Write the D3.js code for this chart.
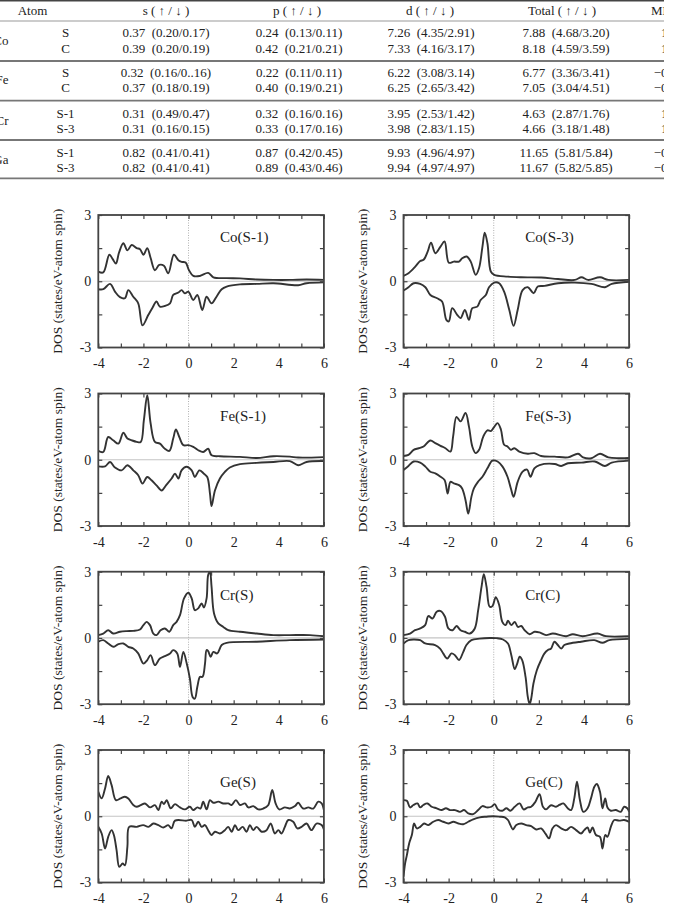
<!DOCTYPE html>
<html>
<head>
<meta charset="utf-8">
<script src="https://cdn.jsdelivr.net/npm/d3@7"></script>
<style>
  body { margin: 0; background: #fff; }
  svg { display: block; font-family: "Liberation Serif", "Times New Roman", serif; }
  .tbl text { fill: #222; font-size: 13px; white-space: pre; }
  .axis text { font-family: "Liberation Serif", serif; font-size: 14px; fill: #222; }
  .axis line { stroke: #444; stroke-width: 1.2; }
</style>
</head>
<body>
<svg id="fig" width="673" height="903"></svg>
<script>
// ---- table data ----
const tableAtoms = ["Co", "Fe", "Cr", "Ga"];
const tableSites = ["S", "C", "S", "C", "S-1", "S-3", "S-1", "S-3"];
const sCol = ["0.37  (0.20/0.17)", "0.39  (0.20/0.19)", "0.32  (0.16/0..16)", "0.37  (0.18/0.19)",
              "0.31  (0.49/0.47)", "0.31  (0.16/0.15)", "0.82  (0.41/0.41)", "0.82  (0.41/0.41)"];
const pCol = ["0.24  (0.13/0.11)", "0.42  (0.21/0.21)", "0.22  (0.11/0.11)", "0.40  (0.19/0.21)",
              "0.32  (0.16/0.16)", "0.33  (0.17/0.16)", "0.87  (0.42/0.45)", "0.89  (0.43/0.46)"];
const dCol = ["7.26  (4.35/2.91)", "7.33  (4.16/3.17)", "6.22  (3.08/3.14)", "6.25  (2.65/3.42)",
              "3.95  (2.53/1.42)", "3.98  (2.83/1.15)", "9.93  (4.96/4.97)", "9.94  (4.97/4.97)"];
const totalCol = ["7.88  (4.68/3.20)", "8.18  (4.59/3.59)", "6.77  (3.36/3.41)", "7.05  (3.04/4.51)",
                  "4.63  (2.87/1.76)", "4.66  (3.18/1.48)", "11.65  (5.81/5.84)", "11.67  (5.82/5.85)"];
// only the first characters are visible in the cropped figure
const mmCol = ["1", "1", "\u22120", "\u22120", "1", "1", "\u22120", "\u22120"];
const tableHeaders = ["Atom", "s ( \u2191 / \u2193 )", "p ( \u2191 / \u2193 )", "d ( \u2191 / \u2193 )", "Total ( \u2191 / \u2193 )", "MM"];

// ---- DOS curves: [energy (eV), DOS] ----
const coS1Up = [[-4,0.44],[-3.78,0.4],[-3.51,1.2],[-3.36,1.0],[-3.22,0.8],[-3.08,1.3],[-2.89,1.72],[-2.71,1.4],[-2.52,1.64],[-2.3,1.5],[-2.15,1.45],[-2.0,1.2],[-1.83,1.5],[-1.68,1.05],[-1.49,0.5],[-1.3,0.74],[-1.09,0.7],[-0.9,0.36],[-0.65,1.2],[-0.45,0.95],[-0.31,0.88],[-0.13,0.85],[0.02,0.5],[0.21,0.24],[0.5,0.24],[0.87,0.38],[1.1,0.18],[1.69,0.14],[2.28,0.13],[3.02,0.08],[3.76,0.06],[4.49,0.06],[5.23,0.08],[6.0,0.06]];
const coS1Dn = [[-4,-0.36],[-3.78,-0.36],[-3.48,-0.12],[-3.26,-0.47],[-3.04,-0.72],[-2.82,-0.77],[-2.67,-0.4],[-2.45,-0.7],[-2.23,-1.0],[-2.04,-2.0],[-1.78,-1.52],[-1.61,-1.22],[-1.42,-0.92],[-1.27,-1.15],[-1.05,-1.12],[-0.82,-1.0],[-0.68,-0.62],[-0.45,-0.51],[-0.31,-0.4],[-0.16,-0.55],[-0.01,-0.47],[0.21,-0.85],[0.39,-0.62],[0.61,-1.3],[0.8,-0.7],[1.02,-1.0],[1.24,-0.7],[1.47,-0.36],[1.69,-0.24],[2.28,-0.14],[3.02,-0.12],[3.76,-0.09],[4.86,-0.18],[5.23,-0.09],[6.0,-0.05]];
const coS3Up = [[-4,0.24],[-3.78,0.36],[-3.48,0.66],[-3.26,0.92],[-3.11,0.97],[-2.93,1.34],[-2.78,1.75],[-2.59,1.27],[-2.36,1.57],[-2.18,1.8],[-1.99,0.84],[-1.77,0.89],[-1.54,0.89],[-1.4,1.04],[-1.2,1.12],[-1.02,0.89],[-0.8,0.29],[-0.65,0.6],[-0.5,1.57],[-0.4,2.2],[-0.28,1.72],[-0.13,0.44],[0.02,0.29],[0.61,0.21],[1.21,0.18],[2.1,0.17],[2.85,0.1],[3.59,0.06],[3.89,0.18],[4.18,0.06],[4.71,0.18],[5.08,0.06],[6.0,0.06]];
const coS3Dn = [[-4,-0.42],[-3.78,-0.27],[-3.55,-0.09],[-3.26,-0.12],[-3.03,-0.27],[-2.81,-0.62],[-2.51,-0.77],[-2.29,-0.92],[-2.1,-1.75],[-1.99,-1.82],[-1.84,-1.22],[-1.62,-1.52],[-1.47,-1.67],[-1.28,-1.3],[-1.1,-1.75],[-0.95,-1.22],[-0.73,-1.15],[-0.58,-0.85],[-0.35,-0.62],[-0.21,-0.27],[0.02,-0.06],[0.24,-0.09],[0.46,-0.47],[0.69,-1.3],[0.88,-2.02],[1.06,-1.3],[1.28,-0.4],[1.51,-0.27],[1.77,-0.54],[1.95,-0.24],[2.25,-0.21],[2.85,-0.09],[3.59,-0.06],[4.33,-0.12],[4.93,-0.27],[5.23,-0.12],[6.0,-0.02]];
const feS1Up = [[-4,0.4],[-3.78,0.35],[-3.56,1.03],[-3.34,0.88],[-3.11,0.73],[-2.89,1.22],[-2.71,0.96],[-2.52,0.88],[-2.3,0.81],[-2.12,0.8],[-1.98,1.79],[-1.83,2.92],[-1.68,1.64],[-1.49,0.81],[-1.27,0.73],[-1.05,0.5],[-0.85,0.4],[-0.68,0.96],[-0.56,1.37],[-0.41,1.03],[-0.23,0.66],[-0.01,0.66],[0.21,0.58],[0.43,0.43],[0.65,0.35],[0.87,0.5],[1.02,0.2],[1.39,0.16],[2.28,0.13],[3.02,0.08],[3.76,0.16],[4.49,0.14],[4.86,0.1],[6.0,0.12]];
const feS1Dn = [[-4,-0.3],[-3.7,-0.3],[-3.48,-0.1],[-3.26,-0.35],[-2.97,-0.48],[-2.71,-0.25],[-2.45,-0.48],[-2.23,-0.7],[-2.04,-1.08],[-1.83,-0.78],[-1.64,-0.93],[-1.42,-1.16],[-1.19,-1.39],[-1.0,-1.16],[-0.75,-0.85],[-0.6,-0.63],[-0.45,-0.85],[-0.31,-0.48],[-0.09,-0.32],[0.14,-0.48],[0.28,-0.78],[0.48,-0.48],[0.68,-0.63],[0.83,-0.78],[0.95,-1.53],[1.02,-2.1],[1.17,-1.39],[1.39,-0.85],[1.61,-0.55],[1.83,-0.35],[2.28,-0.2],[3.02,-0.14],[3.76,-0.1],[4.49,-0.06],[4.86,-0.25],[5.23,-0.1],[6.0,-0.06]];
const feS3Up = [[-4,0.17],[-3.78,0.22],[-3.55,0.45],[-3.33,0.52],[-3.11,0.6],[-2.81,0.87],[-2.59,0.75],[-2.36,0.63],[-2.14,0.52],[-1.92,0.37],[-1.8,1.06],[-1.65,1.94],[-1.47,1.74],[-1.25,2.12],[-1.1,1.51],[-0.95,0.6],[-0.8,0.3],[-0.65,0.45],[-0.46,1.06],[-0.28,1.33],[-0.13,1.3],[-0.01,1.44],[0.17,1.66],[0.32,1.36],[0.46,0.68],[0.61,0.6],[0.76,0.45],[0.91,0.52],[1.13,0.37],[1.51,0.27],[1.8,0.3],[2.1,0.17],[2.7,0.14],[3.29,0.11],[3.74,0.27],[3.96,0.11],[4.33,0.07],[4.71,0.27],[5.08,0.11],[5.52,0.07],[6.0,0.08]];
const feS3Dn = [[-4,-0.46],[-3.78,-0.28],[-3.55,-0.08],[-3.26,-0.13],[-3.03,-0.31],[-2.81,-0.54],[-2.59,-0.62],[-2.36,-0.77],[-2.18,-0.92],[-2.04,-1.53],[-1.92,-1.0],[-1.77,-1.07],[-1.54,-1.15],[-1.4,-1.3],[-1.25,-1.83],[-1.13,-2.44],[-0.99,-1.68],[-0.88,-1.3],[-0.7,-1.0],[-0.5,-0.77],[-0.28,-0.39],[-0.06,-0.04],[0.17,-0.08],[0.39,-0.31],[0.61,-0.77],[0.76,-1.3],[0.88,-1.68],[1.06,-1.0],[1.28,-0.54],[1.48,-0.45],[1.63,-0.77],[1.8,-0.39],[2.03,-0.24],[2.7,-0.19],[2.99,-0.28],[3.29,-0.16],[3.89,-0.13],[4.48,-0.08],[4.93,-0.28],[5.23,-0.13],[6.0,-0.04]];
const crSUp = [[-4,0.13],[-3.78,0.2],[-3.56,0.35],[-3.34,0.2],[-3.04,0.28],[-2.74,0.31],[-2.45,0.32],[-2.15,0.38],[-2.0,0.58],[-1.86,0.73],[-1.71,0.58],[-1.56,0.2],[-1.42,0.13],[-1.24,0.35],[-1.05,0.43],[-0.85,0.28],[-0.68,0.58],[-0.53,0.73],[-0.38,1.03],[-0.2,1.79],[-0.01,2.05],[0.14,1.79],[0.28,1.26],[0.43,1.34],[0.58,1.56],[0.68,1.38],[0.8,1.79],[0.87,2.85],[0.95,3.0],[1.02,2.32],[1.13,1.11],[1.32,0.66],[1.54,0.5],[1.76,0.35],[2.28,0.28],[3.02,0.2],[3.76,0.13],[4.49,0.13],[5.38,0.13],[6.0,0.08]];
const crSDn = [[-4,-0.17],[-3.78,-0.1],[-3.56,-0.25],[-3.34,-0.4],[-3.11,-0.28],[-2.89,-0.25],[-2.67,-0.4],[-2.45,-0.48],[-2.23,-0.7],[-2.0,-1.16],[-1.83,-1.0],[-1.68,-0.78],[-1.49,-1.23],[-1.27,-0.93],[-1.05,-0.82],[-0.82,-0.7],[-0.68,-0.55],[-0.5,-0.7],[-0.38,-1.31],[-0.23,-0.63],[-0.08,-1.16],[0.06,-1.84],[0.18,-2.67],[0.28,-2.75],[0.39,-2.21],[0.51,-1.76],[0.62,-1.76],[0.73,-1.16],[0.8,-0.55],[0.87,-0.6],[0.98,-0.85],[1.1,-0.63],[1.27,-0.7],[1.47,-0.32],[1.69,-0.22],[3.02,-0.17],[4.49,-0.1],[6.0,-0.07]];
const crCUp = [[-4,0.13],[-3.71,0.2],[-3.49,0.35],[-3.26,0.43],[-3.04,0.58],[-2.9,0.99],[-2.71,0.88],[-2.53,1.19],[-2.35,1.22],[-2.16,0.96],[-2.01,0.43],[-1.82,0.35],[-1.65,0.54],[-1.47,0.35],[-1.28,0.28],[-1.06,0.2],[-0.84,0.43],[-0.69,1.26],[-0.54,2.32],[-0.44,2.89],[-0.32,2.32],[-0.18,1.41],[-0.06,1.44],[0.09,1.84],[0.24,1.49],[0.38,0.73],[0.53,0.58],[0.63,0.78],[0.78,0.58],[0.93,0.73],[1.07,0.5],[1.22,0.54],[1.37,0.35],[1.59,0.17],[1.81,0.28],[2.03,0.25],[2.32,0.13],[2.62,0.2],[3.21,0.08],[3.5,0.17],[3.94,0.08],[4.6,0.2],[4.97,0.08],[6.0,0.08]];
const crCDn = [[-4,-0.25],[-3.78,-0.1],[-3.56,-0.07],[-3.26,-0.1],[-3.04,-0.25],[-2.6,-0.32],[-2.38,-0.48],[-2.24,-0.7],[-2.06,-0.93],[-1.87,-0.7],[-1.72,-0.78],[-1.54,-1.0],[-1.35,-0.63],[-1.21,-0.32],[-0.99,-0.1],[-0.62,-0.03],[-0.18,0.0],[0.12,-0.01],[0.41,-0.07],[0.63,-0.25],[0.78,-0.78],[0.93,-1.41],[1.04,-1.16],[1.15,-0.85],[1.26,-1.0],[1.41,-1.76],[1.51,-2.67],[1.59,-3.0],[1.66,-2.75],[1.76,-2.06],[1.91,-1.46],[2.1,-1.0],[2.25,-0.7],[2.4,-0.55],[2.54,-0.48],[2.69,-0.17],[2.84,-0.32],[2.99,-0.48],[3.13,-0.32],[3.35,-0.25],[3.87,-0.17],[4.46,-0.1],[4.82,-0.22],[5.12,-0.1],[6.0,-0.04]];
const geSUp = [[-4,1.11],[-3.85,0.81],[-3.7,1.26],[-3.56,1.82],[-3.41,1.41],[-3.22,0.73],[-3.01,0.81],[-2.82,0.88],[-2.67,0.8],[-2.45,0.51],[-2.3,0.43],[-2.12,0.5],[-1.93,0.58],[-1.71,0.4],[-1.49,0.5],[-1.34,0.28],[-1.19,0.66],[-1.09,0.55],[-0.97,0.73],[-0.79,0.36],[-0.6,0.55],[-0.38,0.4],[-0.16,0.31],[0.06,0.43],[0.21,0.28],[0.39,0.4],[0.53,0.35],[0.65,0.66],[0.8,0.31],[0.95,0.73],[1.1,0.61],[1.32,0.66],[1.54,0.58],[1.76,0.58],[1.91,0.51],[2.1,0.73],[2.28,0.51],[2.5,0.58],[2.65,0.4],[2.87,0.46],[3.09,0.31],[3.31,0.35],[3.53,0.5],[3.71,1.19],[3.86,0.58],[4.02,0.31],[4.27,0.4],[4.49,0.35],[4.72,0.46],[4.86,0.61],[5.08,0.35],[5.31,0.4],[5.53,0.35],[5.75,0.66],[5.9,0.58],[6.0,0.28]];
const geSDn = [[-4,-0.48],[-3.85,-0.78],[-3.7,-1.46],[-3.56,-0.93],[-3.41,-0.63],[-3.31,-0.85],[-3.19,-1.53],[-3.07,-2.29],[-2.92,-2.14],[-2.82,-2.22],[-2.71,-1.38],[-2.63,-0.48],[-2.3,-0.48],[-2.01,-0.4],[-1.78,-0.48],[-1.56,-0.33],[-1.34,-0.4],[-1.12,-0.51],[-0.9,-0.4],[-0.75,-0.55],[-0.6,-0.2],[-0.09,-0.2],[0.14,-0.17],[0.28,-0.48],[0.43,-0.25],[0.58,-0.48],[0.73,-0.4],[0.87,-0.63],[1.02,-0.85],[1.17,-0.7],[1.39,-0.78],[1.61,-0.63],[1.76,-0.48],[1.91,-0.7],[2.06,-0.4],[2.2,-0.63],[2.4,-0.48],[2.57,-0.7],[2.72,-0.4],[2.87,-0.63],[3.02,-0.48],[3.24,-0.7],[3.46,-0.63],[3.64,-0.33],[3.83,-0.78],[3.98,-0.63],[4.12,-0.78],[4.27,-0.48],[4.42,-0.17],[4.64,-0.25],[4.82,-0.55],[5.01,-0.48],[5.23,-0.33],[5.45,-0.63],[5.67,-0.33],[5.9,-0.4],[6.0,-0.6]];
const geCUp = [[-4,0.73],[-3.85,0.7],[-3.71,0.4],[-3.56,0.51],[-3.38,0.58],[-3.26,0.4],[-3.12,0.51],[-2.94,0.58],[-2.75,0.43],[-2.53,0.36],[-2.31,0.28],[-2.12,0.36],[-1.94,0.28],[-1.72,0.28],[-1.5,0.2],[-1.32,0.28],[-1.13,0.13],[-0.91,0.1],[-0.69,0.28],[-0.5,0.46],[-0.32,0.4],[-0.1,0.43],[0.04,0.55],[0.19,0.31],[0.38,0.25],[0.56,0.36],[0.74,0.25],[0.93,0.43],[1.15,0.58],[1.32,0.31],[1.51,0.4],[1.66,0.43],[1.85,0.66],[2.03,1.0],[2.18,0.43],[2.32,0.31],[2.54,0.5],[2.76,0.43],[2.91,0.51],[3.09,0.58],[3.28,0.36],[3.43,0.28],[3.57,0.81],[3.69,1.56],[3.82,0.73],[3.97,0.2],[4.16,0.36],[4.31,0.81],[4.46,1.34],[4.57,1.46],[4.71,1.11],[4.82,0.36],[4.94,0.81],[5.04,0.4],[5.19,0.25],[5.41,0.28],[5.63,0.2],[5.78,0.43],[5.93,0.35],[6.0,0.2]];
const geCDn = [[-4,-2.74],[-3.93,-2.14],[-3.85,-1.76],[-3.75,-1.23],[-3.63,-0.85],[-3.53,-0.33],[-3.41,-0.55],[-3.26,-0.48],[-3.09,-0.33],[-2.9,-0.4],[-2.68,-0.25],[-2.46,-0.17],[-2.24,-0.25],[-2.01,-0.33],[-1.79,-0.25],[-1.57,-0.33],[-1.35,-0.36],[-1.13,-0.25],[-0.91,-0.14],[-0.62,-0.05],[-0.32,-0.02],[-0.03,0.0],[0.26,-0.02],[0.49,-0.05],[0.63,-0.17],[0.74,-0.4],[0.85,-0.6],[1.0,-0.4],[1.22,-0.33],[1.44,-0.4],[1.66,-0.45],[1.88,-0.6],[2.1,-0.55],[2.3,-0.8],[2.45,-1.0],[2.6,-0.55],[2.76,-0.4],[2.99,-0.55],[3.21,-0.63],[3.43,-0.48],[3.65,-0.63],[3.87,-0.78],[4.01,-0.63],[4.16,-0.51],[4.26,-0.74],[4.38,-0.51],[4.53,-0.85],[4.71,-0.93],[4.82,-1.46],[4.94,-0.85],[5.04,-0.93],[5.19,-0.48],[5.34,-0.17],[5.56,-0.2],[5.78,-0.17],[6.0,-0.25]];

const panels = [
  {name: "Co(S-1)", up: coS1Up, dn: coS1Dn, col: 0, row: 0, ly: 2.0},
  {name: "Co(S-3)", up: coS3Up, dn: coS3Dn, col: 1, row: 0, ly: 2.0},
  {name: "Fe(S-1)", up: feS1Up, dn: feS1Dn, col: 0, row: 1, ly: 2.0},
  {name: "Fe(S-3)", up: feS3Up, dn: feS3Dn, col: 1, row: 1, ly: 2.0},
  {name: "Cr(S)",   up: crSUp,  dn: crSDn,  col: 0, row: 2, ly: 1.97},
  {name: "Cr(C)",   up: crCUp,  dn: crCDn,  col: 1, row: 2, ly: 1.97},
  {name: "Ge(S)",   up: geSUp,  dn: geSDn,  col: 0, row: 3, ly: 1.55},
  {name: "Ge(C)",   up: geCUp,  dn: geCDn,  col: 1, row: 3, ly: 1.55}
];

const svg = d3.select("#fig");

// ---------------- Table ----------------
const rowMid = [32, 48, 72, 87, 113, 128, 152, 167],
      groupMid = [40, 79.5, 120.5, 159.5],
      colMid = [166, 299, 431, 566];

svg.append("clipPath").attr("id", "tclip")
   .append("rect").attr("x", 0).attr("y", 0).attr("width", 664).attr("height", 185);

const tbl = svg.append("g").attr("class", "tbl").attr("clip-path", "url(#tclip)");

// rules
tbl.append("line").attr("x1", 0).attr("x2", 673).attr("y1", 0.8).attr("y2", 0.8)
   .attr("stroke", "#444").attr("stroke-width", 1.6);
tbl.append("line").attr("x1", 0).attr("x2", 673).attr("y1", 21).attr("y2", 21)
   .attr("stroke", "#999").attr("stroke-width", 1);
[61, 100.7, 140, 178.3].forEach(yy => {
  tbl.append("line").attr("x1", 0).attr("x2", 673).attr("y1", yy).attr("y2", yy)
     .attr("stroke", "#777").attr("stroke-width", 1.8);
});

// headers
const headX = [32.5, 166, 297, 430, 562];
tableHeaders.slice(0, 5).forEach((h, i) => {
  tbl.append("text").attr("x", headX[i]).attr("y", 10.7).attr("dy", "0.35em")
     .attr("text-anchor", "middle").text(h);
});
tbl.append("text").attr("x", 651).attr("y", 10.7).attr("dy", "0.35em").text(tableHeaders[5]);

// atom group labels (left side is cropped off)
tableAtoms.forEach((a, i) => {
  tbl.append("text").attr("x", 8.5).attr("y", groupMid[i]).attr("dy", "0.35em")
     .attr("text-anchor", "end").text(a);
});

// rows
[sCol, pCol, dCol, totalCol].forEach((col, c) => {
  col.forEach((v, r) => {
    tbl.append("text").attr("x", colMid[c]).attr("y", rowMid[r]).attr("dy", "0.35em")
       .attr("text-anchor", "middle").text(v);
  });
});
tableSites.forEach((s, r) => {
  tbl.append("text").attr("x", 65.5).attr("y", rowMid[r]).attr("dy", "0.35em")
     .attr("text-anchor", "middle").text(s);
});
mmCol.forEach((v, r) => {
  tbl.append("text").attr("x", 667.5).attr("y", rowMid[r]).attr("dy", "0.35em")
     .attr("text-anchor", "end").text(v);
});

// ---------------- DOS panels ----------------
const colX = [98.3, 403.5],
      rowY = [215, 393.5, 571.7, 750],
      pw = 225.6,
      ph = 132.5;

const x = d3.scaleLinear().domain([-4, 6]).range([0, pw]);
const y = d3.scaleLinear().domain([-3, 3]).range([ph, 0]);

const line = d3.line()
  .x(d => x(d[0]))
  .y(d => y(d[1]))
  .curve(d3.curveCatmullRom.alpha(0.5));

panels.forEach((p, i) => {
  const g = svg.append("g")
    .attr("transform", "translate(" + colX[p.col] + "," + rowY[p.row] + ")");

  g.append("clipPath").attr("id", "clip" + i)
    .append("rect").attr("x", 0).attr("y", -1).attr("width", pw).attr("height", ph + 2);

  // zero line and Fermi level
  g.append("line")
    .attr("x1", 0).attr("x2", pw).attr("y1", y(0)).attr("y2", y(0))
    .attr("stroke", "#c4c4c4").attr("stroke-width", 1.2);
  g.append("line")
    .attr("x1", x(0)).attr("x2", x(0)).attr("y1", 0).attr("y2", ph)
    .attr("stroke", "#b0b0b0").attr("stroke-width", 1)
    .attr("stroke-dasharray", "1,1.5");

  // spin up / spin down curves
  [p.up, p.dn].forEach(data => {
    g.append("path")
      .datum(data)
      .attr("clip-path", "url(#clip" + i + ")")
      .attr("fill", "none")
      .attr("stroke", "#333")
      .attr("stroke-width", 1.9)
      .attr("stroke-linejoin", "round")
      .attr("d", line);
  });

  // axes with inward ticks
  const xTicks = d3.range(-4, 7, 1),
        yTicks = [-3, -1.5, 0, 1.5, 3];

  g.append("g").attr("class", "axis")
    .attr("transform", "translate(0," + ph + ")")
    .call(d3.axisBottom(x).tickValues(xTicks).tickSize(-4).tickPadding(11)
      .tickFormat(d => d % 2 === 0 ? String(d) : ""));
  g.append("g").attr("class", "axis")
    .call(d3.axisTop(x).tickValues(xTicks).tickSize(-4).tickFormat(""));
  g.append("g").attr("class", "axis")
    .call(d3.axisLeft(y).tickValues(yTicks).tickSize(-4).tickPadding(7)
      .tickFormat(d => (d === 3 || d === 0 || d === -3) ? String(d) : ""));
  g.append("g").attr("class", "axis")
    .attr("transform", "translate(" + pw + ",0)")
    .call(d3.axisRight(y).tickValues(yTicks).tickSize(-4).tickFormat(""));
  g.selectAll(".axis .domain").remove();

  // frame
  g.append("rect")
    .attr("width", pw).attr("height", ph)
    .attr("fill", "none").attr("stroke", "#444").attr("stroke-width", 1.8);

  // panel label
  g.append("text")
    .attr("x", x(1.4)).attr("y", y(p.ly)).attr("dy", "0.35em")
    .style("font-size", "15px").style("fill", "#222")
    .text(p.name);

  // y-axis title
  g.append("text")
    .attr("transform", "translate(-41," + (ph / 2) + ") rotate(-90)")
    .attr("text-anchor", "middle").attr("dy", "0.35em")
    .style("font-size", "13.5px").style("fill", "#222")
    .text("DOS (states/eV-atom spin)");
});
</script>
</body>
</html>
